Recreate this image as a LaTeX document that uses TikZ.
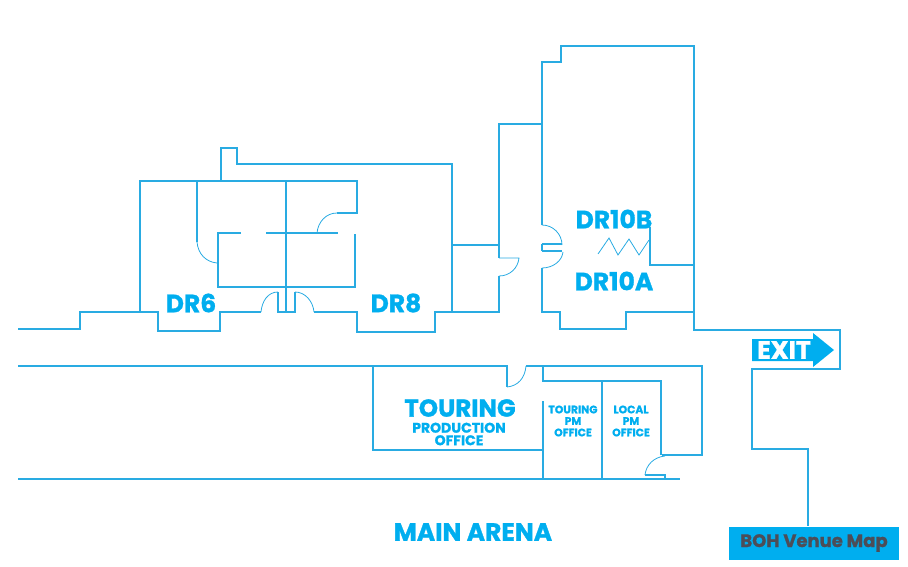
\documentclass[tikz,border=0pt]{standalone}
\usepackage{xcolor}
\usepackage{fontspec}
\setmainfont{Poppins}[BoldFont={Poppins Bold},BoldFeatures={FakeBold=1.2}]
\usetikzlibrary{positioning}
\definecolor{wallblue}{HTML}{29ABE2}
\definecolor{labelblue}{HTML}{00AEEF}
\definecolor{mapgrey}{HTML}{4D4D57}

\begin{document}
\begin{tikzpicture}[
    x=1pt,
    y=-1pt,
    wall/.style={
        draw=wallblue,
        line width=1.5pt
    },
    swing/.style={
        draw=wallblue,
        line width=0.8pt
    },
    room/.style={
        text=labelblue,
        inner sep=0pt,
        font=\bfseries\fontsize{25}{25}\selectfont
    },
    small/.style={
        text=labelblue,
        inner sep=0pt,
        align=center,
        font=\bfseries\fontsize{10.8}{11.5}\selectfont
    }
]
\useasboundingbox (0,0) rectangle (908,567);

% Walls, upper left
\draw [wall] (18,329) -- (80,329) -- (80,312) -- (158,312) -- (158,331) -- (220,331) -- (220,312) -- (261,312);
\draw [wall] (278,292) -- (278,312) -- (295,312) -- (295,292);
\draw [wall] (314,312) -- (357,312) -- (357,332) -- (435,332) -- (435,312) -- (452,312) -- (452,164) -- (237,164) -- (237,148) -- (221,148) -- (221,181);
\draw [wall] (140,312) -- (140,181) -- (357,181) -- (357,213) -- (337,213);
\draw [wall] (286,181) -- (286,312);
\draw [wall] (197,181) -- (197,242);
\draw [wall] (241,233) -- (218,233) -- (218,287) -- (355,287) -- (355,234);
\draw [wall] (266,233) -- (338,233);

% Door swings, upper left
\draw [swing] (261,312) .. controls (262,301) and (268,292) .. (278,292);
\draw [swing] (295,292) .. controls (305,292) and (313,301) .. (314,312);
\draw [swing] (337,213) .. controls (326,213) and (318,222) .. (317,233);
\draw [swing] (197,242) .. controls (198,254) and (206,262) .. (217,263);

% Walls, upper right
\draw [wall] (452,245) -- (499,245);
\draw [wall] (452,312) -- (499,312) -- (499,276);
\draw [wall] (499,258) -- (499,124) -- (542,124);
\draw [wall] (542,225) -- (542,62) -- (561,62) -- (561,46) -- (694,46) -- (694,330) -- (840,330) -- (840,369) -- (752,369) -- (752,449) -- (808,449) -- (808,526);
\draw [wall] (542,244) -- (562,244);
\draw [wall] (542,251) -- (562,251);
\draw [wall] (542,244) -- (542,251);
\draw [wall] (542,268) -- (542,312) -- (560,312) -- (560,329) -- (626,329) -- (626,312) -- (694,312);
\draw [wall] (650,227) -- (650,265) -- (694,265);

% Door swings, upper right
\draw [swing] (499,258) -- (519,258) .. controls (518,268) and (510,276) .. (499,276);
\draw [swing] (542,225) .. controls (553,225) and (562,234) .. (562,245);
\draw [swing] (563,252) .. controls (562,261) and (553,268) .. (542,268);
\draw [swing] (598,254) -- (609,238) -- (618,255) -- (629,239) -- (639,255) -- (649,240);

% Walls, lower
\draw [wall] (18,366) -- (507,366) -- (507,387);
\draw [wall] (526,366) -- (702,366) -- (702,455) -- (662,455);
\draw [wall] (543,366) -- (543,381) -- (661,381) -- (661,455);
\draw [wall] (373,366) -- (373,450) -- (543,450);
\draw [wall] (543,401) -- (543,479);
\draw [wall] (602,381) -- (602,479);
\draw [wall] (18,479) -- (680,479);
\draw [wall] (645,475) -- (665,475) -- (665,479);

% Door swings, lower
\draw [swing] (507,387) .. controls (518,386) and (525,378) .. (526,366);
\draw [swing] (665,456) .. controls (654,457) and (646,465) .. (645,475);

% Exit arrow
\fill [labelblue] (752,339) -- (813,339) -- (813,333) -- (834,350) -- (813,367) -- (813,361) -- (752,361) -- cycle;

% Nodes
\node [room] (dr6) at (191,303) {DR6};
\node [room] (dr8) at (396,303) {DR8};
\node [room] (drtenb) at (614,219) {DR10B};
\node [room] (drtena) at (614,281) {DR10A};
\node [room, font=\bfseries\fontsize{24.5}{24.5}\selectfont] (touring) at (460,408) {TOURING};
\node [small, font=\bfseries\fontsize{14}{12.5}\selectfont] (production) at (459,434) {PRODUCTION\\OFFICE};
\node [small] (touringpm) at (573,421) {TOURING\\PM\\OFFICE};
\node [small] (localpm) at (631,421) {LOCAL\\PM\\OFFICE};
\node [room] (arena) at (473,532) {MAIN ARENA};
\node [text=white, inner sep=0pt, font=\bfseries\fontsize{25}{25}\selectfont] (exit) at (784,350) {EXIT};
\node [fill=labelblue, text=mapgrey, minimum width=170pt, minimum height=33pt, inner sep=0pt, font=\bfseries\fontsize{18}{18}\selectfont] (bohmap) at (814,543) {\raisebox{-1.5pt}{BOH Venue Map}};

\end{tikzpicture}
\end{document}
